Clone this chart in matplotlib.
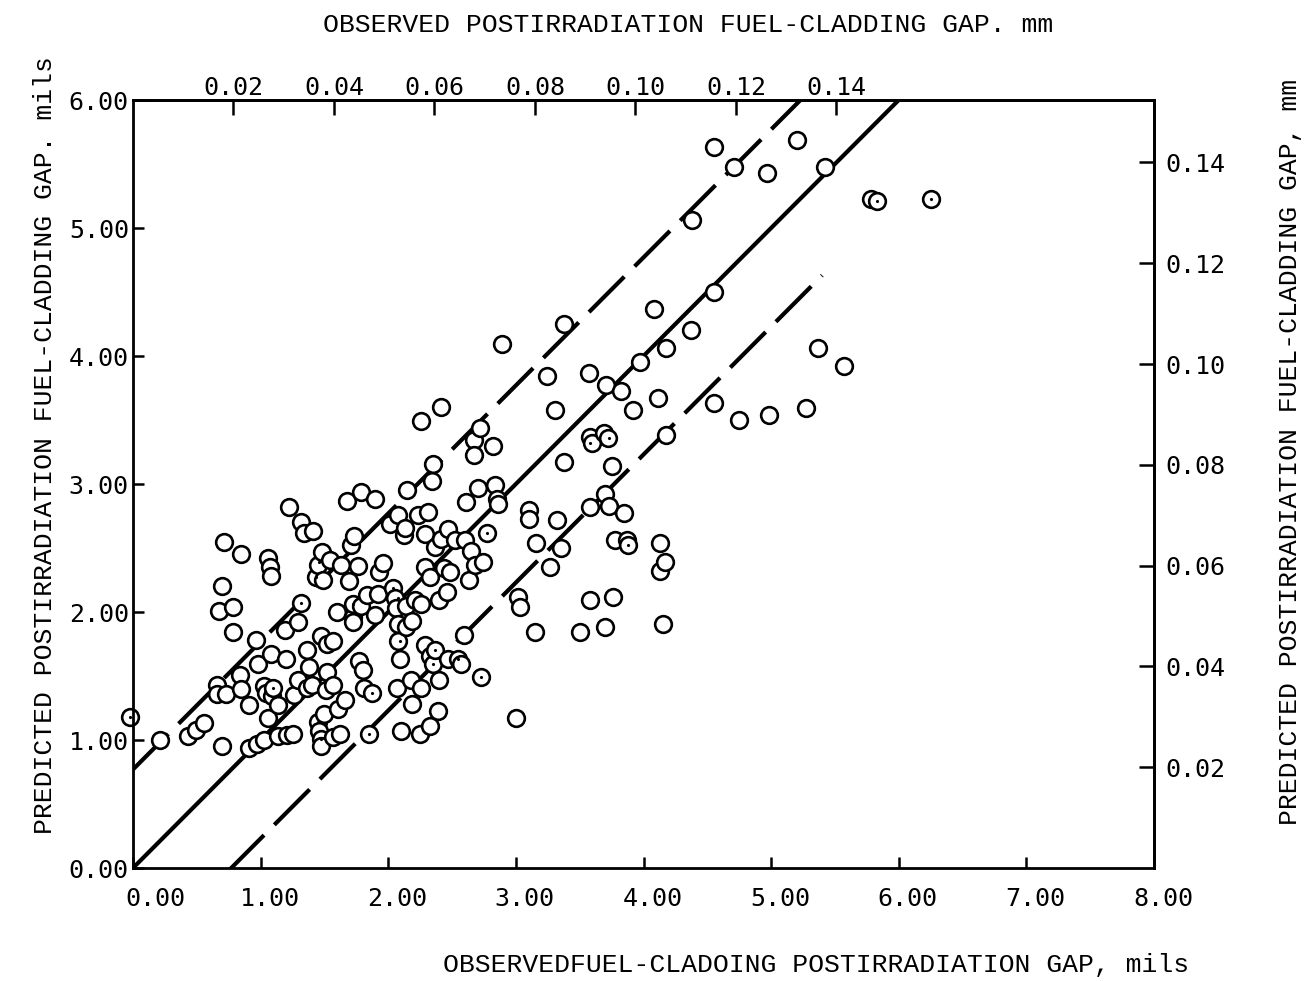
import matplotlib
matplotlib.use("Agg")
from matplotlib import pyplot as plt
from matplotlib.transforms import ScaledTranslation
import numpy as np

# observed gap (mils) vs predicted gap (mils)
obs = [-0.02, 0.21, 0.43, 0.49, 0.56, 0.66, 0.66, 0.70, 0.67, 0.71, 0.70, 0.73, 0.78, 0.78,
       0.85, 0.84, 0.85, 0.91, 0.91, 0.96, 0.97, 0.98, 1.03, 1.03, 1.04, 1.06, 1.07, 1.08,
       1.08, 1.06, 1.09, 1.10, 1.14, 1.14, 1.19, 1.21, 1.22, 1.20, 1.25, 1.26, 1.29, 1.29,
       1.32, 1.32, 1.34, 1.36, 1.36, 1.38, 1.40, 1.41, 1.43, 1.45, 1.45, 1.46, 1.47, 1.47,
       1.47, 1.48, 1.49, 1.50, 1.51, 1.52, 1.52, 1.54, 1.57, 1.57, 1.57, 1.61, 1.62, 1.63,
       1.60, 1.66, 1.69, 1.68, 1.71, 1.72, 1.72, 1.72, 1.73, 1.76, 1.77, 1.79, 1.79, 1.80,
       1.81, 1.83, 1.85, 1.87, 1.90, 1.90, 1.92, 1.93, 1.96, 2.01, 2.04, 2.05, 2.06, 2.07,
       2.08, 2.08, 2.08, 2.09, 2.10, 2.12, 2.13, 2.14, 2.14, 2.15, 2.18, 2.19, 2.19, 2.21,
       2.23, 2.25, 2.26, 2.26, 2.26, 2.29, 2.29, 2.29, 2.31, 2.33, 2.33, 2.33, 2.34, 2.35,
       2.35, 2.37, 2.37, 2.39, 2.40, 2.40, 2.41, 2.41, 2.44, 2.47, 2.46, 2.47, 2.48, 2.52,
       2.55, 2.57, 2.59, 2.60, 2.61, 2.63, 2.65, 2.67, 2.67, 2.68, 2.70, 2.72, 2.73, 2.74,
       2.77, 2.82, 2.84, 2.85, 2.86, 2.89, 3.00, 3.02, 3.03, 3.10, 3.10, 3.15, 3.16, 3.24,
       3.27, 3.31, 3.32, 3.35, 3.38, 3.38, 3.50, 3.57, 3.58, 3.58, 3.58, 3.60, 3.69, 3.70,
       3.70, 3.71, 3.72, 3.73, 3.75, 3.76, 3.78, 3.82, 3.85, 3.87, 3.88, 3.92, 3.97, 4.08,
       4.11, 4.13, 4.13, 4.15, 4.17, 4.18, 4.18, 4.37, 4.38, 4.55, 4.55, 4.55, 4.71, 4.75,
       4.97, 4.98, 5.20, 5.27, 5.42, 5.37, 5.57, 5.78, 5.83, 6.25]
pred = [1.18, 1.00, 1.03, 1.08, 1.13, 1.43, 1.36, 2.20, 2.01, 2.55, 0.95, 1.36, 2.04, 1.84,
        2.45, 1.51, 1.40, 1.27, 0.94, 1.78, 0.97, 1.59, 1.00, 1.42, 1.37, 2.42, 2.35, 2.28,
        1.67, 1.17, 1.34, 1.41, 1.03, 1.27, 1.86, 1.04, 2.82, 1.63, 1.05, 1.35, 1.92, 1.47,
        2.07, 2.70, 2.62, 1.70, 1.41, 1.57, 1.43, 2.63, 2.27, 2.37, 1.14, 1.07, 1.01, 0.95,
        1.81, 2.47, 2.25, 1.20, 1.39, 1.75, 1.53, 2.41, 1.02, 1.77, 1.43, 1.24, 1.05, 2.37,
        2.00, 1.31, 2.24, 2.87, 2.52, 1.96, 2.06, 1.92, 2.59, 2.36, 1.62, 2.94, 2.05, 1.55,
        1.41, 2.13, 1.05, 1.37, 2.88, 1.98, 2.14, 2.31, 2.38, 2.69, 2.19, 2.11, 2.03, 1.41,
        2.76, 1.91, 1.77, 1.63, 1.07, 2.60, 2.66, 2.05, 1.88, 2.95, 1.47, 1.28, 1.93, 2.09,
        2.76, 1.05, 1.41, 2.06, 3.49, 2.61, 2.35, 1.74, 2.78, 2.27, 1.66, 1.11, 3.02, 3.16,
        1.59, 1.70, 2.51, 1.23, 1.47, 2.09, 3.60, 2.57, 2.34, 2.65, 2.16, 1.63, 2.31, 2.56,
        1.63, 1.59, 1.82, 2.56, 2.86, 2.25, 2.48, 3.34, 3.23, 2.37, 2.97, 3.44, 1.49, 2.39,
        2.62, 3.30, 2.99, 2.88, 2.84, 4.09, 1.17, 2.12, 2.04, 2.80, 2.73, 1.84, 2.54, 3.84,
        2.35, 3.58, 2.72, 2.50, 3.17, 4.25, 1.84, 3.87, 3.37, 2.82, 2.09, 3.32, 3.40, 1.88,
        2.92, 3.77, 3.36, 2.83, 3.14, 2.12, 2.56, 3.73, 2.77, 2.56, 2.52, 3.58, 3.95, 4.37,
        3.67, 2.54, 2.32, 1.91, 2.39, 3.38, 4.06, 4.20, 5.06, 4.50, 5.63, 3.63, 5.48, 3.50,
        5.43, 3.54, 5.69, 3.59, 5.48, 4.06, 3.92, 5.23, 5.21, 5.23]

# circles that carry a centre dot
dot_obs = [-0.02, 1.10, 1.32, 1.43, 1.46, 1.72, 2.04, 2.08, 2.09, 1.87, 1.85, 1.47, 1.45,
           3.58, 3.73, 3.88, 2.77, 2.37, 2.55, 2.35, 2.73, 5.83, 6.25]
dot_pred = [1.18, 1.41, 2.07, 2.27, 2.39, 2.06, 2.19, 2.11, 1.77, 1.37, 1.05, 1.01, 1.14,
            3.32, 3.36, 2.52, 2.62, 1.70, 1.63, 1.59, 1.49, 5.21, 5.23]

# perfect-agreement line and the +/- scatter band (mils)
band = 0.77
fit_x = [0.0, 6.1]
upper_x = [0.0, 5.3]
lower_x = [0.75, 5.4]

mils_ticks = [0, 1, 2, 3, 4, 5, 6, 7, 8]
pred_ticks = [0, 1, 2, 3, 4, 5, 6]
mm_ticks = [0.02, 0.04, 0.06, 0.08, 0.10, 0.12, 0.14]

tick_font = "DejaVu Sans Mono"
label_font = "Liberation Mono"

fig = plt.figure(figsize=(13.06, 9.81), dpi=100)
ax = fig.add_axes([133/1306, 1-868/981, (1154-133)/1306, (868-100)/981])

ax.plot(fit_x, fit_x, color="black", lw=3.0, solid_capstyle="butt")
ax.plot(upper_x, np.array(upper_x) + band, color="black", lw=3.0, dashes=(12, 3.5))
ax.plot(lower_x, np.array(lower_x) - band, color="black", lw=3.0, dashes=(12, 3.5))

ax.plot(obs, pred, "o", ms=12, mfc="white", mec="black", mew=1.9, clip_on=False)
ax.plot(dot_obs, dot_pred, ".", ms=2.5, color="black", clip_on=False)

ax.set_xlim(0, 8)
ax.set_ylim(0, 6)
ax.set_xticks(mils_ticks)
ax.set_xticklabels(["%.2f" % t for t in mils_ticks], family=tick_font, fontsize=18)
ax.set_yticks(pred_ticks)
ax.set_yticklabels(["%.2f" % t for t in pred_ticks], family=tick_font, fontsize=18)
ax.tick_params(direction="in", length=8, width=1.8, pad=14, axis="x")
ax.tick_params(direction="in", length=8, width=1.8, pad=3, axis="y")
for s in ax.spines.values():
    s.set_linewidth(2.0)

# the typed bottom labels sit a little right of their ticks
for i, lab in enumerate(ax.get_xticklabels()):
    dx = 0.22 if i == 0 else 0.09
    lab.set_transform(lab.get_transform() + ScaledTranslation(dx, 0, fig.dpi_scale_trans))

to_mm = lambda v: v * 0.0254
to_mils = lambda v: v / 0.0254

top = ax.secondary_xaxis("top", functions=(to_mm, to_mils))
top.set_xticks(mm_ticks)
top.set_xticklabels(["%.2f" % t for t in mm_ticks], family=tick_font, fontsize=18)
top.tick_params(direction="in", length=11, width=1.8, pad=0)
top.spines["top"].set_linewidth(2.0)

right = ax.secondary_yaxis("right", functions=(to_mm, to_mils))
right.set_yticks(mm_ticks)
right.set_yticklabels(["%.2f" % t for t in mm_ticks], family=tick_font, fontsize=18)
right.tick_params(direction="in", length=11, width=1.8, pad=8)
right.spines["right"].set_linewidth(2.0)

fig.text(688/1306, 1-25/981, "OBSERVED POSTIRRADIATION FUEL-CLADDING GAP. mm",
         ha="center", va="center", family=label_font, fontsize=19)
fig.text(816/1306, 1-965/981, "OBSERVEDFUEL-CLADOING POSTIRRADIATION GAP, mils",
         ha="center", va="center", family=label_font, fontsize=19)
fig.text(45/1306, 1-445/981, "PREDICTED POSTIRRADIATION FUEL-CLADDING GAP. mils",
         ha="center", va="center", rotation=90, family=label_font, fontsize=19)
fig.text(1290/1306, 1-452/981, "PREDICTED POSTIRRADIATION FUEL-CLADDING GAP, mm",
         ha="center", va="center", rotation=90, family=label_font, fontsize=19)

fig.savefig("out.png", dpi=100)
